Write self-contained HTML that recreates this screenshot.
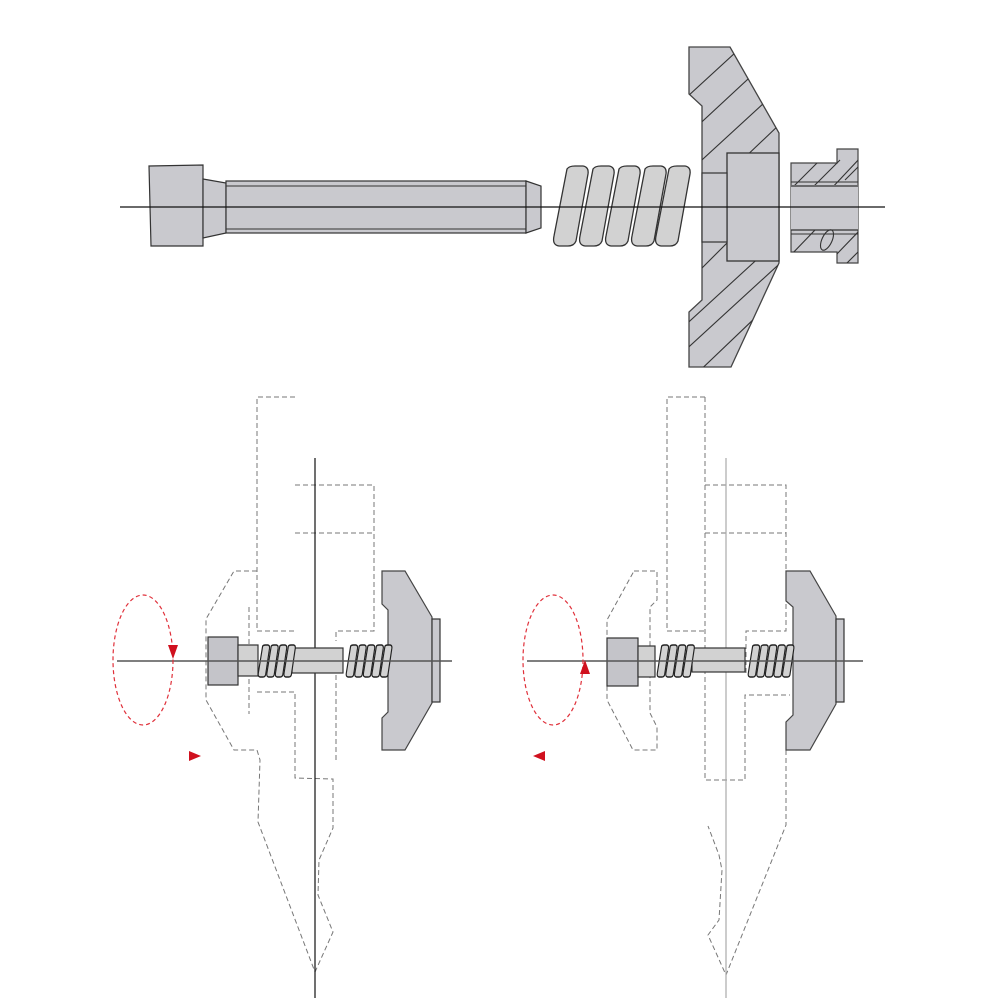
<!DOCTYPE html>
<html><head><meta charset="utf-8"><style>html,body{margin:0;padding:0;background:#fff}svg{display:block}</style></head>
<body>
<svg width="1000" height="1000" viewBox="0 0 1000 1000" xmlns="http://www.w3.org/2000/svg">
<defs>
<path id="coil" d="M14,3 Q16,0 22,0 L30,0 Q36,1 35,8 L23,75 Q21,80 15,80 L6,80 Q-1,79 1,70 Z" fill="#d2d2d2" stroke="#333" stroke-width="1.3"/>
<path id="scoil" d="M14,3 Q16,0 22,0 L30,0 Q36,1 35,8 L23,75 Q21,80 15,80 L6,80 Q-1,79 1,70 Z" fill="#d2d2d2" stroke="#222" stroke-width="3.5"/>
<g id="sp4"><use href="#scoil" x="0"/><use href="#scoil" x="26"/><use href="#scoil" x="52"/><use href="#scoil" x="78"/></g>
<clipPath id="fc"><path d="M689,47 L730,47 L779,133 L779,263 L731,367 L689,367 L689,312 L702,300 L702,106 L689,94 Z"/></clipPath>
<clipPath id="bc"><path d="M791,163 L837,163 L837,149 L858,149 L858,263 L837,263 L837,252 L791,252 Z"/></clipPath>
</defs>

<g stroke="#333" stroke-width="1.2" fill="#c9c9ce">
<path d="M149,166 L203,165 L203,246 L151,246 Z"/>
<path d="M203,179 L226,183 L226,233 L203,238 Z"/>
<rect x="226" y="181" width="300" height="52"/>
<path d="M526,181 L541,186 L541,228 L526,233 Z"/>
</g>
<line x1="226" y1="186" x2="526" y2="186" stroke="#333" stroke-width="1"/>
<line x1="226" y1="229" x2="526" y2="229" stroke="#333" stroke-width="1"/>

<g transform="translate(553,166)">
<use href="#coil" x="0"/><use href="#coil" x="26"/><use href="#coil" x="52"/><use href="#coil" x="78"/><use href="#coil" x="102"/>
</g>

<path d="M689,47 L730,47 L779,133 L779,263 L731,367 L689,367 L689,312 L702,300 L702,106 L689,94 Z" fill="#c9c9ce" stroke="#444" stroke-width="1.3"/>
<g clip-path="url(#fc)" stroke="#333" stroke-width="1.1">
<line x1="640" y1="140" x2="760" y2="30"/><line x1="650" y1="170" x2="790" y2="40"/><line x1="680" y1="180" x2="800" y2="70"/><line x1="700" y1="200" x2="800" y2="105"/>
<line x1="690" y1="280" x2="730" y2="240"/><line x1="680" y1="330" x2="800" y2="220"/><line x1="680" y1="355" x2="800" y2="245"/><line x1="690" y1="380" x2="800" y2="275"/><line x1="720" y1="380" x2="800" y2="305"/>
</g>
<rect x="727" y="153" width="52" height="108" fill="#c9c9ce" stroke="#333" stroke-width="1.3"/>
<rect x="702" y="173" width="25" height="69" fill="#c9c9ce" stroke="#333" stroke-width="1.2"/>

<path d="M791,163 L837,163 L837,149 L858,149 L858,263 L837,263 L837,252 L791,252 Z" fill="#c9c9ce" stroke="#444" stroke-width="1.2"/>
<g clip-path="url(#bc)" stroke="#333" stroke-width="1.1">
<line x1="790" y1="190" x2="820" y2="160"/><line x1="810" y1="190" x2="840" y2="160"/><line x1="830" y1="190" x2="860" y2="158"/><line x1="845" y1="180" x2="870" y2="155"/>
<line x1="790" y1="256" x2="815" y2="230"/><line x1="835" y1="256" x2="860" y2="230"/><line x1="840" y1="270" x2="870" y2="240"/>
</g>
<rect x="791" y="185" width="67" height="45" fill="#c9c9ce" stroke="none"/>
<line x1="791" y1="182" x2="858" y2="182" stroke="#333" stroke-width="1"/>
<line x1="791" y1="186" x2="858" y2="186" stroke="#333" stroke-width="1.3"/>
<line x1="791" y1="230" x2="858" y2="230" stroke="#333" stroke-width="1.3"/>
<line x1="791" y1="234" x2="858" y2="234" stroke="#333" stroke-width="1"/>
<ellipse cx="827" cy="240" rx="5" ry="11" transform="rotate(25 827 240)" fill="none" stroke="#333" stroke-width="1.1"/>

<line x1="120" y1="207" x2="885" y2="207" stroke="#111" stroke-width="1.2"/>

<g fill="none" stroke="#777" stroke-width="1" stroke-dasharray="5,3">
<path d="M295,397 L257,397 L257,631 L295,631"/>
<path d="M295,485 L374,485 L374,631 L336,631 L336,641"/>
<path d="M295,533 L374,533"/>
<path d="M257,571 L234,571 L206,619 L206,700 L234,750 L257,750 L260,760 L258,822 L315,972"/>
<path d="M249,607 L249,714"/>
<path d="M257,692 L295,692 L295,778 L333,779 L333,828 L319,860 L318,895 L333,932 L315,972"/>
<path d="M336,675 L336,760"/>
</g>
<line x1="315" y1="458" x2="315" y2="998" stroke="#111" stroke-width="1.2"/>
<g stroke="#333" stroke-width="1.2">
<rect x="208" y="637" width="30" height="48" fill="#c4c4c9"/>
<rect x="238" y="645" width="20" height="31" fill="#d2d2d2"/>
<rect x="292" y="648" width="51" height="25" fill="#d2d2d2"/>
<path d="M382,571 L405,571 L432,617 L432,703 L405,750 L382,750 L382,718 L388,712 L388,610 L382,604 Z" fill="#c9c9ce" stroke="#444"/>
<rect x="432" y="619" width="8" height="83" fill="#c9c9ce"/>
</g>
<g transform="translate(258,645) scale(0.33,0.4)"><use href="#sp4"/></g>
<g transform="translate(346,645) scale(0.33,0.4)"><use href="#sp4"/><use href="#scoil" x="104"/></g>
<line x1="117" y1="661" x2="452" y2="661" stroke="#555" stroke-width="1.6"/>
<ellipse cx="143" cy="660" rx="30" ry="65" fill="none" stroke="#e0303a" stroke-width="1.2" stroke-dasharray="4,3"/>
<path d="M168,645 L178,645 L173,659 Z" fill="#d0101e"/>
<path d="M189,751 L201,756 L189,761 Z" fill="#d0101e"/>

<g fill="none" stroke="#777" stroke-width="1" stroke-dasharray="5,3">
<path d="M705,397 L667,397 L667,631 L705,631"/>
<path d="M705,485 L786,485 L786,631 L746,631 L746,673"/>
<path d="M705,533 L786,533"/>
<path d="M705,397 L705,780 L745,780 L745,695 L790,695"/>
<path d="M634,571 L657,571 L657,600 L650,607 L650,713 L657,727 L657,750 L633,750 L607,700 L607,620 Z"/>
<path d="M786,750 L786,825 L726,975 L708,935 L719,920 L722,870 L719,855 L708,826"/>
</g>
<line x1="726" y1="458" x2="726" y2="998" stroke="#aaa" stroke-width="1.2"/>
<g stroke="#333" stroke-width="1.2">
<rect x="607" y="638" width="31" height="48" fill="#c4c4c9"/>
<rect x="638" y="646" width="17" height="31" fill="#d2d2d2"/>
<rect x="692" y="648" width="53" height="24" fill="#d2d2d2"/>
<path d="M786,571 L810,571 L836,616 L836,704 L810,750 L786,750 L786,722 L793,715 L793,607 L786,601 Z" fill="#c9c9ce" stroke="#444"/>
<rect x="836" y="619" width="8" height="83" fill="#c9c9ce"/>
</g>
<g transform="translate(657,645) scale(0.33,0.4)"><use href="#sp4"/></g>
<g transform="translate(748,645) scale(0.33,0.4)"><use href="#sp4"/><use href="#scoil" x="104"/></g>
<line x1="527" y1="661" x2="863" y2="661" stroke="#555" stroke-width="1.6"/>
<ellipse cx="553" cy="660" rx="30" ry="65" fill="none" stroke="#e0303a" stroke-width="1.2" stroke-dasharray="4,3"/>
<path d="M580,674 L590,674 L585,660 Z" fill="#d0101e"/>
<path d="M545,751 L533,756 L545,761 Z" fill="#d0101e"/>
</svg>
</body></html>
